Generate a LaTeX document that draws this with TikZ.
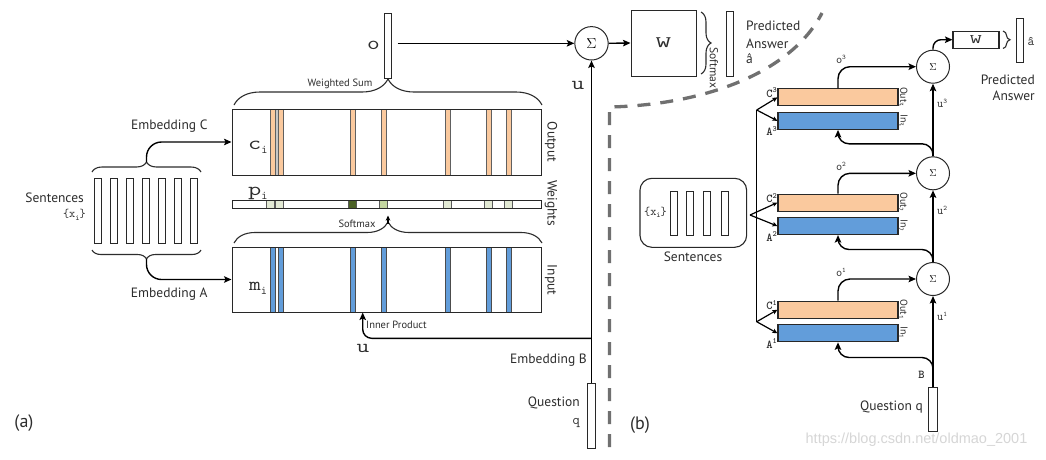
\documentclass[tikz,border=0pt]{standalone}
\usepackage{fontspec}
\setmainfont{PT Sans}
\newfontfamily\wmfont{Liberation Sans}
\usetikzlibrary{arrows.meta,decorations.pathreplacing,calc}
\definecolor{peach}{RGB}{250,201,158}
\definecolor{sky}{RGB}{98,157,218}
\definecolor{lgreen}{RGB}{226,233,212}
\definecolor{mgreen}{RGB}{196,214,160}
\definecolor{dgreen}{RGB}{74,96,36}
\definecolor{dashgray}{RGB}{112,112,112}
\definecolor{edge}{RGB}{40,40,40}
\definecolor{ink}{RGB}{45,45,45}
\newcommand{\wt}[2][1.3]{\scalebox{#1}[1]{#2}}
\newcommand{\mysub}[3]{\raisebox{-#2pt}{\fontsize{#1}{#1}\selectfont #3}}
\newcommand{\mysup}[3]{\raisebox{#2pt}{\fontsize{#1}{#1}\selectfont #3}}
\begin{document}
\begin{tikzpicture}[x=1pt,y=-1pt,
  lbl/.style={font=\fontsize{13.5}{15}\selectfont, inner sep=0pt, text=ink},
  sml/.style={font=\fontsize{10.5}{12}\selectfont, inner sep=0pt, text=ink},
  ttl/.style={font=\fontsize{19}{20}\ttfamily, inner sep=0pt, text=ink},
  tts/.style={font=\fontsize{12}{13}\ttfamily\bfseries, inner sep=0pt, text=ink},
  vec/.style={draw=edge, line width=0.9pt, fill=white, inner sep=0pt},
  box/.style={draw=edge, line width=1pt, inner sep=0pt},
  ln/.style={line width=1.4pt, draw=black},
  arr/.style={ln, -{Stealth[length=7.5pt,width=6.5pt,inset=1.5pt]}},
  sarr/.style={line width=1.2pt, -{Stealth[length=5pt,width=4.5pt,inset=1pt]}},
  brc/.style={decorate, decoration={brace, amplitude=#1}, line width=1.1pt, draw=ink},
  sig/.style={circle, draw=edge, line width=1pt, minimum size=#1, inner sep=0pt, fill=white},
  lay/.style={draw=edge, line width=1.1pt, minimum width=120pt, minimum height=17pt, inner sep=0pt},
]
\useasboundingbox (0,0) rectangle (1046,459);
\fill[white] (0,0) rectangle (1046,459);

% ---------------- (a) ----------------
% sentences
\foreach \i in {0,...,6}
  \node[vec, minimum width=7.3pt, minimum height=65pt] (x\i) at ({97.9+16*\i},210.5) {};
\node[lbl, anchor=east] (sentL) at (84,198) {Sentences};
\node[font=\fontsize{12}{12}\ttfamily, inner sep=0pt, text=ink, anchor=east] (xiL) at (86,215) {\{x\mysub{8}{2.5}{i}\}};
\draw[brc=10pt] (92,172) -- (201,172);
\draw[brc=9pt] (201,250) -- (92,250);
\coordinate (tipC) at (146.5,162);
\coordinate (tipA) at (146.5,259);
\node[lbl] (embC) at (169.3,126.5) {Embedding C};
\node[lbl] (embA) at (169.3,294.5) {Embedding A};

% output memory c
\fill[gray!45] (275.7,109) rectangle (278.3,175);
\foreach \s in {273.2,280.8,352.5,384.2,448.2,489.2,508.5}
  \filldraw[fill=peach, draw=gray!75!black, line width=0.6pt] (\s-2.5,109) rectangle (\s+2.5,175);
\node[box, minimum width=309pt, minimum height=66pt] (cbox) at (386.5,142) {};
\node[ttl, anchor=base west] (ci) at (248,149.5) {\wt[1.35]{c}\mysub{12}{4}{i}};

% input memory m
\foreach \s in {273.2,280.8,352.5,384.2,448.2,489.2,508.5}
  \filldraw[fill=sky, draw=gray!60!black, line width=0.6pt] (\s-2.5,247) rectangle (\s+2.5,312);
\node[box, minimum width=309pt, minimum height=65pt] (mbox) at (386.5,279.5) {};
\node[ttl, anchor=base west] (mi) at (249,290.5) {\wt[1.2]{m}\mysub{12}{4}{i}};

% weights
\fill[white] (232,200.7) rectangle (541,208.3);
\foreach \s/\c in {269.9/lgreen,279.5/lgreen,352.2/dgreen,383.7/mgreen,447.2/lgreen,488.3/lgreen,507.9/lgreen}
  \filldraw[fill=\c, draw=gray!70!black, line width=0.5pt] (\s-4,200.7) rectangle (\s+4,208.3);
\node[box, line width=0.9pt, minimum width=309pt, minimum height=7.6pt] (wbar) at (386.5,204.5) {};
\node[ttl, anchor=base west] (pi) at (248,195) {\wt[1.35]{p}\mysub{12}{4}{i}};

\node[lbl, rotate=-90] (outL) at (551,142) {Output};
\node[lbl, rotate=-90] (wL) at (551,203) {Weights};
\node[lbl, rotate=-90] (inL) at (551,280) {Input};

\draw[arr, rounded corners=15pt] (tipC) |- (cbox.west);
\draw[arr, rounded corners=15pt] (tipA) |- (mbox.west);

% braces over memories
\draw[brc=26pt] (234,105) -- (542,105);
\node[sml] (wsum) at (340,84) {Weighted Sum};
\draw[brc=21pt] (234,243) -- (542,243);
\coordinate (smtip) at (388,224);
\coordinate (smend) at (388,215.5);
\draw[sarr] (smtip) -- (smend);
\node[sml] (smx) at (357,223.5) {Softmax};

% o vector
\node[vec, minimum width=6.5pt, minimum height=65pt] (obar) at (388,45.5) {};
\node[ttl, anchor=base] (olab) at (373.5,49.5) {\wt{o}};

% sum, W, answer
\node[sig=33.4pt] (sigL) at (591.5,43.3) {\fontsize{14}{14}\selectfont$\Sigma$};
\draw[arr, shorten <=6pt] (obar.east |- sigL.west) -- (sigL.west);
\node[box, minimum width=65pt, minimum height=66pt] (WL) at (663.5,43) {\fontsize{16}{16}\ttfamily\color{ink}\wt[1.9]{W}};
\draw[arr] (sigL.east) -- (WL.west);
\draw[brc=10pt] (701,12) -- (701,74);
\node[font=\fontsize{11.5}{12}\selectfont, inner sep=0pt, text=ink, rotate=-90] (smW) at (714,68) {Softmax};
\node[vec, minimum width=6.5pt, minimum height=65pt] (ahat) at (730,43.5) {};
\node[lbl, anchor=base west] (pred1) at (746,30.7) {Predicted};
\node[lbl, anchor=base west] (pred2) at (746,48.3) {Answer};
\node[lbl, anchor=base west] (pred3) at (746,63.5) {â};

% question / u
\node[vec, minimum width=8pt, minimum height=65pt] (qL) at (591.5,415.5) {};
\draw[arr] (qL.north) -- (sigL.south);
\node[ttl, anchor=base] (ulab) at (578,89.3) {\wt{u}};
\coordinate (ujoin) at (591.5,338.3);
\coordinate (ipt) at (362.7,312.5);
\draw[arr, rounded corners=9pt] (ujoin) -| (ipt);
\node[sml, anchor=west] (inner) at (366,325) {Inner Product};
\node[ttl, anchor=base] (ulab2) at (363,352.7) {\wt{u}};
\node[lbl, anchor=east] (embB) at (587,360) {Embedding B};
\node[lbl, anchor=east] (quesL) at (580,403) {Question};
\node[font=\fontsize{14}{14}\ttfamily, inner sep=0pt, text=ink, anchor=base east] (qlab) at (580,424) {q};

\node[font=\fontsize{18}{18}\selectfont, inner sep=0pt, text=ink] (lab_a) at (24,423) {(a)};
\node[font=\fontsize{18}{18}\selectfont, inner sep=0pt, text=ink] (lab_b) at (640,425) {(b)};

% separator
\draw[dashgray, line width=3.3pt, dash pattern=on 13pt off 10pt]
  (609.5,447) -- (609.5,107) .. controls (700,105) and (790,75) .. (822,13);

% ---------------- (b) ----------------
\foreach \k/\ct/\sy in {3/88.3/66.7, 2/193.5/173.3, 1/300.7/279} {
  \node[lay, fill=peach, anchor=north] (C\k) at (838,\ct) {};
  \node[lay, fill=sky, anchor=north] (A\k) at (838,\ct+23.5) {};
  \node[sig=33pt] (S\k) at (933,\sy) {\fontsize{10}{10}\selectfont$\Sigma$};
  \node[tts, anchor=base east] (CL\k) at (777,\ct+9) {C\mysup{8}{4.5}{\k}};
  \node[tts, anchor=base east] (AL\k) at (777,\ct+23.5+24) {A\mysup{8}{4.5}{\k}};
  \node[font=\fontsize{10}{10}\selectfont, text=ink, inner sep=0pt, rotate=-90] (out\k) at (903,\ct+8.5) {Out\mysub{7}{2}{\k}};
  \node[font=\fontsize{10}{10}\selectfont, text=ink, inner sep=0pt, rotate=-90] (in\k) at (903,\ct+32) {In\mysub{7}{2}{\k}};
  \node[font=\fontsize{12}{12}\ttfamily, text=ink, inner sep=0pt] (ol\k) at (841,\sy-7) {o\mysup{7}{4}{\k}};
  \node[font=\fontsize{12}{12}\ttfamily, text=ink, inner sep=0pt, anchor=west] (ul\k) at (937,\sy+37) {u\mysup{7}{4}{\k}};
  \draw[arr, rounded corners=12pt] (C\k.north) |- (S\k.west);
}
\draw[arr] (S1.north) -- (S2.south);
\draw[arr] (S2.north) -- (S3.south);
\draw[arr, rounded corners=11pt] (S2.north) -- ++(0,-12.5) -| (A3.south);
\draw[arr, rounded corners=11pt] (S1.north) -- ++(0,-12.5) -| (A2.south);

% question
\node[vec, minimum width=8.4pt, minimum height=44pt] (q2) at (933,409.7) {};
\draw[arr] (q2.north) -- (S1.south);
\coordinate (bj) at (933,370);
\draw[arr, rounded corners=11pt] (bj) -- ++(0,-12.5) -| (A1.south);
\node[tts] (Blab) at (921.5,375) {B};
\node[lbl, anchor=east] (quesR) at (923,407) {Question q};

% sentences box
\node[draw=edge, line width=1.1pt, rounded corners=12pt, minimum width=106.7pt, minimum height=69pt, inner sep=0pt] (sbox) at (693.3,212.8) {};
\foreach \xx [count=\j] in {674,690.3,707.3,725.3}
  \node[vec, minimum width=7pt, minimum height=44pt] (r\j) at (\xx,213.7) {};
\node[font=\fontsize{12}{12}\ttfamily, inner sep=0pt, text=ink] (xiR) at (655.5,212.5) {\{x\mysub{8}{2.5}{i}\}};
\node[lbl] (sentR) at (693,256.5) {Sentences};

% forks
\coordinate (ap3) at (756.7,110);
\coordinate (ap1) at (756.7,321.7);
\coordinate (ap2) at (750,215);
\draw[line width=1.2pt] (ap3) -- (ap1);
\foreach \k in {1,2,3} {
  \draw[sarr] (ap\k) -- (C\k.west);
  \draw[sarr] (ap\k) -- (A\k.west);
}

% output
\node[draw=edge, line width=1.1pt, minimum width=46pt, minimum height=17.3pt, inner sep=0pt] (W2) at (976,39.7) {\fontsize{13}{13}\ttfamily\color{ink}\wt[1.8]{W}};
\draw[arr, rounded corners=8pt] (S3.north) |- (W2.west);
\draw[brc=7pt] (1003,31) -- (1003,48.5);
\node[vec, minimum width=7pt, minimum height=44pt] (ah2) at (1019.5,40) {};
\node[font=\fontsize{13}{13}\ttfamily, inner sep=0pt, text=ink] (ahl) at (1031,41) {â};
\node[lbl, anchor=east] (predR1) at (1035,80) {Predicted};
\node[lbl, anchor=east] (predR2) at (1035,95.5) {Answer};

% watermark
\node[font=\wmfont\fontsize{14.5}{15}\selectfont, text=black!16, inner sep=0pt] (wm) at (916.5,440) {https://blog.csdn.net/oldmao\_2001};
\end{tikzpicture}
\end{document}
